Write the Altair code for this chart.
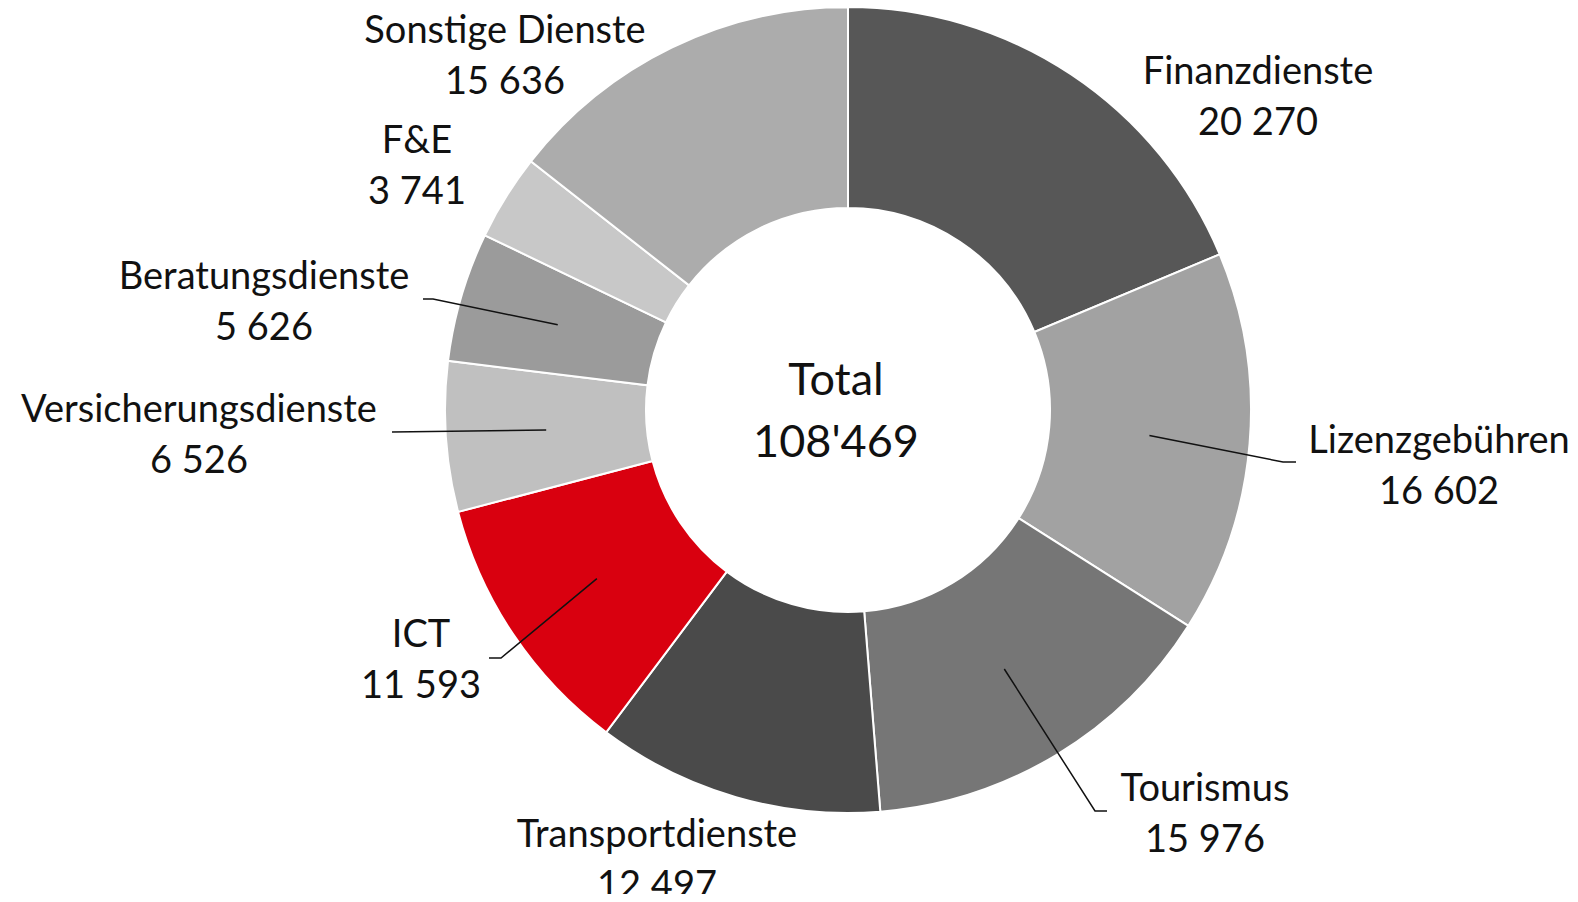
import altair as alt
import pandas as pd
import numpy as np

# --- data ---
categories = ["Finanzdienste", "Lizenzgebühren", "Tourismus", "Transportdienste", "ICT",
              "Versicherungsdienste", "Beratungsdienste", "F&E", "Sonstige Dienste"]
values = [20270, 16602, 15976, 12497, 11593, 6526, 5626, 3741, 15636]
total_label = "108'469"

# --- styles ---
colors = ["#575757", "#a2a2a2", "#767676", "#4a4a4a", "#d9000f",
          "#c0c0c0", "#9b9b9b", "#c8c8c8", "#acacac"]

# --- layout (pixels relative to donut centre, y downward) ---
W, H = 1562, 886
CX, CY = 840, 402
R_OUT, R_IN = 403, 202
label_dx = [410, 591, 357, -191, -427, -649, -584, -431, -343]
label_dy = [-337, 31.5, 380, 425.5, 225.5, 0.5, -132, -268, -378.5]
# leader lines: elbow and end points (None = no leader)
leader_elbow = [None, (435, 52), (247, 401), None, (-347, 248), (-456, 22), (-415, -111), None, None]
leader_end = [None, (448, 52), (259, 401), None, (-359, 248), (-456, 22), (-425, -111), None, None]

fmt = lambda v: f"{v:,}".replace(",", " ")

df = pd.DataFrame({"cat": categories, "value": values, "idx": list(range(len(values)))})

xs = alt.Scale(domain=[-CX, W - CX], range=[0, W])
ys = alt.Scale(domain=[-CY, H - CY], range=[0, H])

arcs = alt.Chart(df).mark_arc(innerRadius=R_IN, outerRadius=R_OUT, stroke="white", strokeWidth=2).encode(
    theta=alt.Theta("value:Q", stack=True),
    order=alt.Order("idx:Q"),
    color=alt.Color("cat:N", scale=alt.Scale(domain=categories, range=colors), legend=None),
    x=alt.value(CX), y=alt.value(CY),
)

lab = pd.DataFrame({
    "text": [f"{c}\n{fmt(v)}" for c, v in zip(categories, values)],
    "x": label_dx, "y": label_dy,
})
labels = alt.Chart(lab).mark_text(font="Lato", fontSize=38, lineBreak="\n", lineHeight=51,
                                  align="center", baseline="middle", color="#111111").encode(
    x=alt.X("x:Q", scale=xs, axis=None),
    y=alt.Y("y:Q", scale=ys, axis=None),
    text="text:N",
)

center = alt.Chart(pd.DataFrame({"text": [f"Total\n{total_label}"], "x": [-12], "y": [-29.5]})).mark_text(
    font="Lato", fontSize=45, lineBreak="\n", lineHeight=62, align="center", baseline="middle", color="#111111"
).encode(x=alt.X("x:Q", scale=xs, axis=None), y=alt.Y("y:Q", scale=ys, axis=None), text="text:N")

# leader lines: start at wedge centroid (from data), then elbow, then end
tot = sum(values)
cum = np.cumsum([0] + values[:-1])
r_mid = (R_IN + R_OUT) / 2
rows = []
for i, c in enumerate(categories):
    if leader_elbow[i] is None:
        continue
    th = (cum[i] + values[i] / 2) / tot * 2 * np.pi
    pts = [(r_mid * np.sin(th), -r_mid * np.cos(th)), leader_elbow[i], leader_end[i]]
    for k, (px, py) in enumerate(pts):
        rows.append({"cat": c, "k": k, "x": px, "y": py})
ld = pd.DataFrame(rows)
leaders = alt.Chart(ld).mark_line(color="#111111", strokeWidth=1.5).encode(
    x=alt.X("x:Q", scale=xs, axis=None),
    y=alt.Y("y:Q", scale=ys, axis=None),
    detail="cat:N",
    order="k:Q",
)

chart = alt.layer(arcs, leaders, labels, center).properties(
    width=W, height=H, autosize=alt.AutoSizeParams(type="none"), padding=0,
).configure_view(stroke=None)

chart.save("out.html", embed_options={"renderer": "svg", "actions": False})
